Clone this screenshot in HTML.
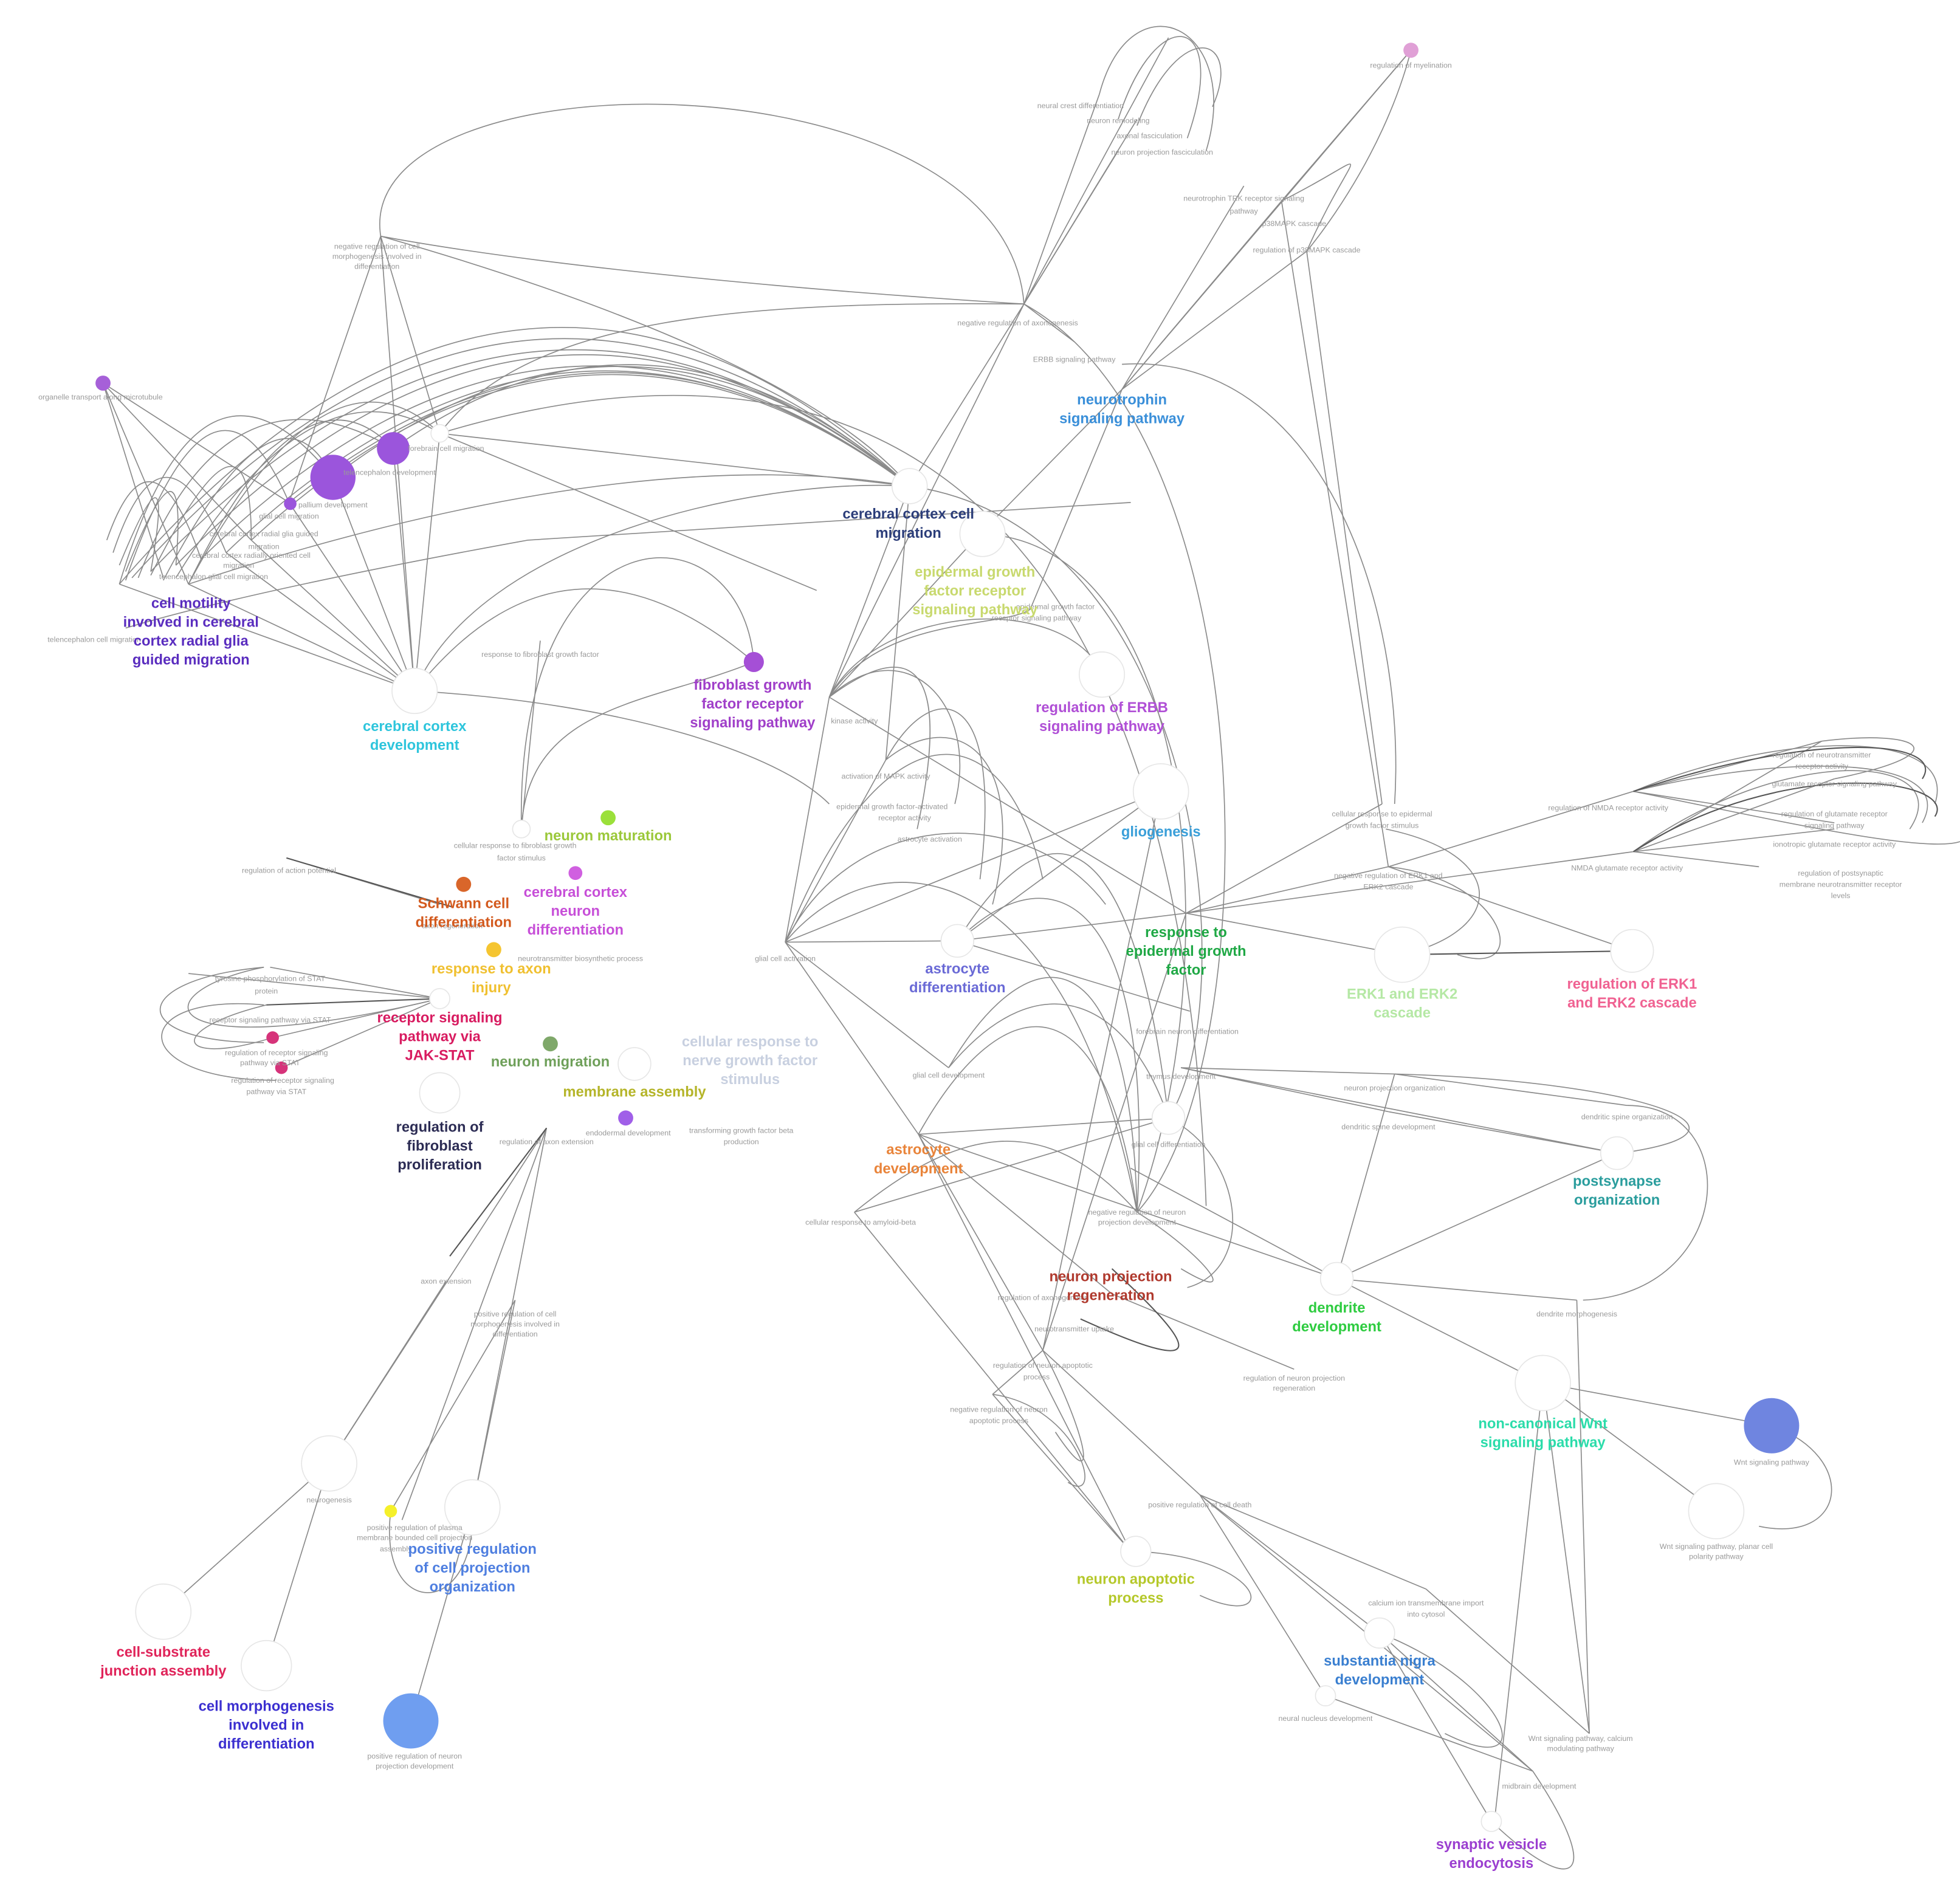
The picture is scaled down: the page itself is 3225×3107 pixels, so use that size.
<!DOCTYPE html>
<html><head><meta charset="utf-8"><style>
html,body{margin:0;padding:0;background:#fff}
svg{display:block}
.e{fill:none;stroke:#8a8a8a;stroke-width:0.8}
.d{fill:none;stroke:#555;stroke-width:1}
.n{fill:#fff;stroke:#e6e6e6;stroke-width:0.8}
.s{font-family:"Liberation Sans",sans-serif;font-size:6px;fill:#9a9a9a;text-anchor:middle}
.l{font-family:"Liberation Sans",sans-serif;font-size:11.5px;font-weight:bold;text-anchor:middle}
</style></head><body>
<svg width="3225" height="3107" viewBox="0 0 1560 1503" preserveAspectRatio="none" xmlns="http://www.w3.org/2000/svg">
<rect width="1560" height="1503" fill="#fff"/>
<g class="e">
<!-- big top loop -->
<path d="M303 188 C280 40 800 40 815 242"/>
<path d="M303 188 C420 210 620 230 815 242"/>
<path d="M303 188 C450 230 650 300 724 387"/>
<path d="M303 188 L230 400"/><path d="M303 188 L350 345"/><path d="M303 188 L330 550"/>
<path d="M815 242 L930 30"/><path d="M815 242 L875 75"/><path d="M815 242 L905 95"/><path d="M815 242 L890 120"/>
<path d="M815 242 L724 387"/><path d="M815 242 L660 555"/><path d="M815 242 L855 272"/>
<path d="M815 242 C600 240 420 250 350 345"/>
<path d="M893 310 L1020 160"/><path d="M893 310 L1123 40"/><path d="M893 310 L990 148"/><path d="M893 310 L1040 200"/>
<path d="M893 310 L780 425"/><path d="M893 310 L820 485"/>
<path d="M1123 40 L1020 160"/><path d="M1123 40 C1100 130 1040 200 1040 200"/>
<path d="M1040 200 L1100 640"/><path d="M1020 160 L1105 690"/>
<path d="M893 290 C1050 280 1120 480 1110 640"/>
<!-- top right loops -->
<path d="M875 75 C900 -20 990 20 960 120"/><path d="M890 95 C920 0 980 10 945 110"/><path d="M905 100 C940 10 990 30 965 85"/>
<path d="M1040 200 C1080 110 1100 120 1020 160"/>
<!-- fan arcs from left cluster -->
<path d="M95 465 Q410 100 724 387"/><path d="M105 460 Q410 120 724 387"/><path d="M120 455 Q420 140 724 387"/>
<path d="M140 450 Q430 150 724 387"/><path d="M160 445 Q440 170 724 387"/><path d="M180 440 Q450 180 724 387"/>
<path d="M200 430 Q460 190 724 387"/><path d="M230 400 Q480 200 724 387"/><path d="M265 380 Q500 200 724 387"/>
<path d="M313 357 Q520 210 724 387"/>
<path d="M95 465 Q160 250 265 380"/><path d="M100 462 Q170 260 230 400"/><path d="M110 460 Q180 280 313 357"/>
<path d="M120 458 Q200 300 200 430"/><path d="M90 440 Q130 320 180 440"/><path d="M85 430 Q120 330 160 445"/>
<path d="M100 455 Q150 330 140 450"/><path d="M95 450 Q140 340 120 455"/><path d="M130 462 Q220 290 265 380"/>
<path d="M150 465 Q240 280 313 357"/><path d="M150 465 Q260 260 350 345"/><path d="M140 460 Q250 280 350 345"/>
<path d="M82 305 L150 465"/><path d="M82 305 L200 430"/><path d="M82 305 L130 460"/><path d="M82 305 L230 400"/>
<!-- to cerebral cortex development -->
<path d="M95 465 L330 550"/><path d="M150 465 L330 550"/><path d="M200 430 L330 550"/><path d="M230 400 L330 550"/>
<path d="M265 380 L330 550"/><path d="M313 357 L330 550"/><path d="M350 345 L330 550"/><path d="M180 440 L330 550"/>
<path d="M330 550 C380 430 600 380 724 387"/><path d="M330 550 Q450 400 600 527"/><path d="M150 465 Q500 350 724 387"/>
<path d="M330 550 C500 560 620 600 660 640"/>
<path d="M350 345 L724 387"/><path d="M350 345 L650 470"/>
<path d="M100 500 Q200 470 420 430 L900 400"/>
<!-- fibroblast region -->
<path d="M430 510 L415 660"/><path d="M415 660 C410 400 590 400 600 527"/><path d="M415 660 C420 560 520 560 600 527"/>
<path d="M724 387 L660 555"/><path d="M724 387 L705 605"/><path d="M780 425 L660 555"/>
<path d="M660 555 C700 480 850 470 880 540"/><path d="M660 555 C700 490 800 500 820 485"/>
<path d="M660 555 C720 510 760 520 730 660"/><path d="M660 555 C720 500 780 560 760 640"/>
<path d="M705 605 C740 540 800 540 780 700"/><path d="M705 605 C760 560 820 600 790 720"/>
<path d="M625 750 C700 560 800 560 830 700"/><path d="M625 750 L660 555"/><path d="M625 750 L705 605"/>
<path d="M625 750 L762 749"/><path d="M625 750 L755 850"/><path d="M625 750 L731 903"/><path d="M625 750 L924 630"/>
<path d="M625 750 C680 640 820 640 880 720"/><path d="M625 750 C700 660 850 680 905 965"/>
<path d="M762 749 C830 640 900 640 930 890"/><path d="M762 749 C830 680 920 700 905 965"/>
<path d="M762 749 L944 727"/><path d="M762 749 L924 630"/><path d="M762 749 L947 805"/>
<path d="M755 850 C830 760 900 800 930 890"/><path d="M755 850 C820 740 900 740 905 965"/>
<path d="M731 903 C800 780 880 780 905 965"/><path d="M731 903 L930 890"/><path d="M731 903 L885 1030"/>
<path d="M731 903 L900 1235"/><path d="M731 903 L1064 1018"/><path d="M731 903 L830 1075"/>
<!-- long arcs -->
<path d="M815 242 C1010 350 1010 850 905 965"/><path d="M724 387 C960 420 990 800 930 890"/>
<path d="M780 425 C950 430 980 760 905 965"/><path d="M350 345 C700 240 940 400 960 960"/>
<path d="M680 965 L930 890"/><path d="M680 965 C760 900 830 880 905 965"/>
<path d="M905 965 C960 1000 990 1040 940 1010"/><path d="M930 890 C990 920 1000 1010 945 1025"/>
<!-- egf / erk -->
<path d="M944 727 L1300 678"/><path d="M944 727 L1105 690"/><path d="M944 727 L1116 760"/><path d="M944 727 L1100 640"/>
<path d="M944 727 L660 555"/><path d="M944 727 L830 1075"/><path d="M924 630 L830 1075"/>
<path d="M1105 690 L1299 757"/><path d="M1105 690 L1300 630"/><path d="M1105 690 C1200 700 1220 780 1160 760"/>
<path d="M1300 678 L1450 590"/><path d="M1300 678 L1460 660"/><path d="M1300 678 L1400 690"/>
<path d="M1300 630 C1420 580 1560 580 1540 640"/><path d="M1300 630 C1420 600 1560 600 1530 655"/>
<path d="M1300 678 C1420 590 1560 600 1520 660"/><path d="M1300 630 C1400 650 1530 680 1560 670"/>
<path d="M1300 630 L1450 590"/><path d="M1300 678 L1460 620"/><path d="M1300 630 L1460 655"/>
<path d="M1450 590 C1530 580 1560 600 1460 620"/>
<!-- postsynapse -->
<path d="M940 850 L1287 918"/><path d="M940 850 L1110 855"/><path d="M940 850 L1105 885"/>
<path d="M1110 855 L1295 880"/><path d="M1105 885 L1287 918"/><path d="M1110 855 C1300 860 1420 900 1290 918"/>
<path d="M1295 880 C1390 880 1380 1030 1260 1035"/><path d="M1064 1018 L1287 918"/><path d="M1064 1018 L1110 855"/>
<path d="M1064 1018 L1255 1035"/><path d="M1064 1018 L1228 1101"/><path d="M1064 1018 L900 930"/>
<path d="M1255 1035 L1265 1380"/><path d="M1228 1101 L1410 1135"/><path d="M1228 1101 L1366 1203"/>
<path d="M1228 1101 L1265 1380"/><path d="M1228 1101 L1190 1445"/>
<path d="M1410 1135 C1480 1160 1470 1230 1400 1215"/>
<path d="M1103 660 C1200 680 1200 740 1116 760"/>
<!-- lower middle -->
<path d="M830 1075 L955 1190"/><path d="M830 1075 C860 1130 880 1200 840 1140"/><path d="M830 1075 L790 1110"/>
<path d="M790 1110 L900 1235"/><path d="M790 1110 C860 1120 880 1200 850 1180"/>
<path d="M955 1190 L1135 1265"/><path d="M955 1190 L1098 1300"/><path d="M955 1190 L1055 1350"/><path d="M955 1190 L1220 1410"/>
<path d="M904 1235 C1010 1240 1020 1300 955 1270"/><path d="M680 965 L900 1235"/>
<path d="M1098 1300 L1220 1410"/><path d="M1098 1300 L1187 1450"/><path d="M1055 1350 L1220 1410"/>
<path d="M1135 1265 L1265 1380"/><path d="M1220 1410 C1280 1500 1250 1510 1187 1450"/>
<path d="M1098 1300 C1200 1340 1230 1420 1150 1380"/>
<path d="M885 1030 L1030 1090"/>
<!-- left lower -->
<path d="M435 898 L262 1165"/><path d="M435 898 L376 1200"/><path d="M435 898 L320 1210"/>
<path d="M355 1020 L262 1165"/><path d="M410 1035 L311 1203"/><path d="M410 1035 L376 1200"/>
<path d="M262 1165 L130 1283"/><path d="M262 1165 L212 1326"/><path d="M376 1200 L327 1370"/>
<path d="M311 1203 C300 1290 380 1290 376 1200"/>
<path d="M228 683 L350 720"/><path d="M150 775 L350 795"/>
<path d="M210 770 C100 780 100 830 210 830"/><path d="M210 800 C100 790 100 860 220 860"/>
<path d="M210 770 C110 790 120 850 350 795"/><path d="M217 826 C140 850 130 820 212 800"/>
<path d="M215 770 L350 795"/><path d="M217 826 L350 795"/><path d="M224 850 L350 795"/>
</g>
<g class="d">
<path d="M1116 760 L1299 757"/><path d="M228 683 L360 722"/><path d="M435 898 L358 1000"/>
<path d="M212 800 L350 795"/><path d="M885 1010 C950 1070 970 1100 860 1050"/>
<path d="M1300 678 C1420 600 1560 620 1540 650"/><path d="M1300 630 C1450 580 1550 590 1530 620"/>
</g>
<!-- nodes -->
<g class="n">
<circle cx="330" cy="550" r="18"/><circle cx="724" cy="387" r="14"/><circle cx="782" cy="425" r="18"/>
<circle cx="877" cy="537" r="18"/><circle cx="924" cy="630" r="22"/><circle cx="762" cy="749" r="13"/>
<circle cx="1116" cy="760" r="22"/><circle cx="1299" cy="757" r="17"/><circle cx="1287" cy="918" r="13"/>
<circle cx="930" cy="890" r="13"/><circle cx="1064" cy="1018" r="13"/><circle cx="1228" cy="1101" r="22"/>
<circle cx="1366" cy="1203" r="22"/><circle cx="904" cy="1235" r="12"/><circle cx="1098" cy="1300" r="12"/>
<circle cx="376" cy="1200" r="22"/><circle cx="130" cy="1283" r="22"/><circle cx="212" cy="1326" r="20"/>
<circle cx="262" cy="1165" r="22"/><circle cx="350" cy="870" r="16"/><circle cx="505" cy="847" r="13"/>
<circle cx="350" cy="795" r="8"/><circle cx="415" cy="660" r="7"/><circle cx="350" cy="345" r="7"/>
<circle cx="1055" cy="1350" r="8"/><circle cx="1187" cy="1450" r="8"/>
</g>
<circle cx="265" cy="380" r="18" fill="#9b55dc"/><circle cx="313" cy="357" r="13" fill="#9b55dc"/>
<circle cx="231" cy="401" r="5" fill="#9b55dc"/><circle cx="82" cy="305" r="6" fill="#a660d8"/>
<circle cx="600" cy="527" r="8" fill="#a54fd6"/><circle cx="484" cy="651" r="6" fill="#9be03a"/>
<circle cx="458" cy="695" r="5.5" fill="#d060e0"/><circle cx="369" cy="704" r="6" fill="#d9662a"/>
<circle cx="393" cy="756" r="6" fill="#f5c531"/><circle cx="217" cy="826" r="5" fill="#d6337a"/>
<circle cx="224" cy="850" r="5" fill="#d6337a"/><circle cx="438" cy="831" r="6" fill="#7fa86a"/>
<circle cx="498" cy="890" r="6" fill="#a05fe8"/><circle cx="1410" cy="1135" r="22" fill="#6f85e0"/>
<circle cx="327" cy="1370" r="22" fill="#6f9ef0"/><circle cx="311" cy="1203" r="5" fill="#f5f02a"/>
<circle cx="1123" cy="40" r="6" fill="#e0a0d6"/>
<!-- small labels -->
<g class="s">
<text x="80" y="318">organelle transport along microtubule</text>
<text x="300" y="198">negative regulation of cell</text><text x="300" y="206">morphogenesis involved in</text><text x="300" y="214">differentiation</text>
<text x="355" y="359">forebrain cell migration</text><text x="310" y="378">telencephalon development</text>
<text x="265" y="404">pallium development</text><text x="230" y="413">glial cell migration</text>
<text x="210" y="427">cerebral cortex radial glia guided</text><text x="210" y="437">migration</text>
<text x="200" y="444">cerebral cortex radially oriented cell</text><text x="190" y="452">migration</text>
<text x="170" y="461">telencephalon glial cell migration</text><text x="75" y="511">telencephalon cell migration</text>
<text x="430" y="523">response to fibroblast growth factor</text>
<text x="410" y="675">cellular response to fibroblast growth</text><text x="415" y="685">factor stimulus</text>
<text x="230" y="695">regulation of action potential</text><text x="360" y="739">axon regeneration</text>
<text x="462" y="765">neurotransmitter biosynthetic process</text>
<text x="215" y="781">tyrosine phosphorylation of STAT</text><text x="212" y="791">protein</text>
<text x="215" y="814">receptor signaling pathway via STAT</text>
<text x="220" y="840">regulation of receptor signaling</text><text x="215" y="848">pathway via STAT</text>
<text x="225" y="862">regulation of receptor signaling</text><text x="220" y="871">pathway via STAT</text>
<text x="435" y="911">regulation of axon extension</text><text x="500" y="904">endodermal development</text>
<text x="590" y="902">transforming growth factor beta</text><text x="590" y="911">production</text>
<text x="355" y="1022">axon extension</text>
<text x="410" y="1048">positive regulation of cell</text><text x="410" y="1056">morphogenesis involved in</text><text x="410" y="1064">differentiation</text>
<text x="262" y="1196">neurogenesis</text>
<text x="330" y="1218">positive regulation of plasma</text><text x="330" y="1226">membrane bounded cell projection</text><text x="315" y="1235">assembly</text>
<text x="330" y="1400">positive regulation of neuron</text><text x="330" y="1408">projection development</text>
<text x="810" y="259">negative regulation of axonogenesis</text><text x="855" y="288">ERBB signaling pathway</text>
<text x="860" y="86">neural crest differentiation</text><text x="890" y="98">neuron remodeling</text>
<text x="915" y="110">axonal fasciculation</text><text x="925" y="123">neuron projection fasciculation</text>
<text x="1123" y="54">regulation of myelination</text>
<text x="990" y="160">neurotrophin TRK receptor signaling</text><text x="990" y="170">pathway</text>
<text x="1030" y="180">p38MAPK cascade</text><text x="1040" y="201">regulation of p38MAPK cascade</text>
<text x="840" y="485">epidermal growth factor</text><text x="825" y="494">receptor signaling pathway</text>
<text x="680" y="576">kinase activity</text><text x="705" y="620">activation of MAPK activity</text>
<text x="710" y="644">epidermal growth factor-activated</text><text x="720" y="653">receptor activity</text>
<text x="740" y="670">astrocyte activation</text><text x="625" y="765">glial cell activation</text>
<text x="755" y="858">glial cell development</text><text x="930" y="913">glial cell differentiation</text>
<text x="685" y="975">cellular response to amyloid-beta</text>
<text x="905" y="967">negative regulation of neuron</text><text x="905" y="975">projection development</text>
<text x="830" y="1035">regulation of axonogenesis</text><text x="855" y="1060">neurotransmitter uptake</text>
<text x="830" y="1089">regulation of neuron apoptotic</text><text x="825" y="1098">process</text>
<text x="795" y="1124">negative regulation of neuron</text><text x="795" y="1133">apoptotic process</text>
<text x="955" y="1200">positive regulation of cell death</text>
<text x="1030" y="1099">regulation of neuron projection</text><text x="1030" y="1107">regeneration</text>
<text x="1100" y="650">cellular response to epidermal</text><text x="1100" y="659">growth factor stimulus</text>
<text x="1105" y="699">negative regulation of ERK1 and</text><text x="1105" y="708">ERK2 cascade</text>
<text x="1280" y="645">regulation of NMDA receptor activity</text><text x="1295" y="693">NMDA glutamate receptor activity</text>
<text x="1450" y="603">regulation of neurotransmitter</text><text x="1450" y="612">receptor activity</text>
<text x="1460" y="626">glutamate receptor signaling pathway</text><text x="1460" y="650">regulation of glutamate receptor</text><text x="1460" y="659">signaling pathway</text>
<text x="1460" y="674">ionotropic glutamate receptor activity</text>
<text x="1465" y="697">regulation of postsynaptic</text><text x="1465" y="706">membrane neurotransmitter receptor</text><text x="1465" y="715">levels</text>
<text x="945" y="823">forebrain neuron differentiation</text><text x="940" y="859">thymus development</text>
<text x="1110" y="868">neuron projection organization</text><text x="1105" y="899">dendritic spine development</text>
<text x="1295" y="891">dendritic spine organization</text><text x="1255" y="1048">dendrite morphogenesis</text>
<text x="1410" y="1166">Wnt signaling pathway</text><text x="1366" y="1233">Wnt signaling pathway, planar cell</text><text x="1366" y="1241">polarity pathway</text>
<text x="1135" y="1278">calcium ion transmembrane import</text><text x="1135" y="1287">into cytosol</text>
<text x="1055" y="1370">neural nucleus development</text>
<text x="1258" y="1386">Wnt signaling pathway, calcium</text><text x="1258" y="1394">modulating pathway</text>
<text x="1225" y="1424">midbrain development</text>
</g>
<!-- main labels -->
<g class="l">
<text fill="#5a2dbf"><tspan x="152" y="484">cell motility</tspan><tspan x="152" y="499">involved in cerebral</tspan><tspan x="152" y="514">cortex radial glia</tspan><tspan x="152" y="529">guided migration</tspan></text>
<text fill="#2ec5dc"><tspan x="330" y="582">cerebral cortex</tspan><tspan x="330" y="597">development</tspan></text>
<text fill="#2c3e7a"><tspan x="723" y="413">cerebral cortex cell</tspan><tspan x="723" y="428">migration</tspan></text>
<text fill="#c8d96e"><tspan x="776" y="459">epidermal growth</tspan><tspan x="776" y="474">factor receptor</tspan><tspan x="776" y="489">signaling pathway</tspan></text>
<text fill="#3a8fd9"><tspan x="893" y="322">neurotrophin</tspan><tspan x="893" y="337">signaling pathway</tspan></text>
<text fill="#a03fc9"><tspan x="599" y="549">fibroblast growth</tspan><tspan x="599" y="564">factor receptor</tspan><tspan x="599" y="579">signaling pathway</tspan></text>
<text fill="#b04fd6"><tspan x="877" y="567">regulation of ERBB</tspan><tspan x="877" y="582">signaling pathway</tspan></text>
<text fill="#3a9fd9" x="924" y="666">gliogenesis</text>
<text fill="#9bc83a" x="484" y="669">neuron maturation</text>
<text fill="#c74fd8"><tspan x="458" y="714">cerebral cortex</tspan><tspan x="458" y="729">neuron</tspan><tspan x="458" y="744">differentiation</tspan></text>
<text fill="#d35a1e"><tspan x="369" y="723">Schwann cell</tspan><tspan x="369" y="738">differentiation</tspan></text>
<text fill="#f0c030"><tspan x="391" y="775">response to axon</tspan><tspan x="391" y="790">injury</tspan></text>
<text fill="#d81b60"><tspan x="350" y="814">receptor signaling</tspan><tspan x="350" y="829">pathway via</tspan><tspan x="350" y="844">JAK-STAT</tspan></text>
<text fill="#6fa05a" x="438" y="849">neuron migration</text>
<text fill="#c8d0e0"><tspan x="597" y="833">cellular response to</tspan><tspan x="597" y="848">nerve growth factor</tspan><tspan x="597" y="863">stimulus</tspan></text>
<text fill="#b5b52a" x="505" y="873">membrane assembly</text>
<text fill="#2c2c54"><tspan x="350" y="901">regulation of</tspan><tspan x="350" y="916">fibroblast</tspan><tspan x="350" y="931">proliferation</tspan></text>
<text fill="#6a6ad6"><tspan x="762" y="775">astrocyte</tspan><tspan x="762" y="790">differentiation</tspan></text>
<text fill="#1fa845"><tspan x="944" y="746">response to</tspan><tspan x="944" y="761">epidermal growth</tspan><tspan x="944" y="776">factor</tspan></text>
<text fill="#b5e8a5"><tspan x="1116" y="795">ERK1 and ERK2</tspan><tspan x="1116" y="810">cascade</tspan></text>
<text fill="#f06292"><tspan x="1299" y="787">regulation of ERK1</tspan><tspan x="1299" y="802">and ERK2 cascade</tspan></text>
<text fill="#2a9d9d"><tspan x="1287" y="944">postsynapse</tspan><tspan x="1287" y="959">organization</tspan></text>
<text fill="#e9843a"><tspan x="731" y="919">astrocyte</tspan><tspan x="731" y="934">development</tspan></text>
<text fill="#b03a2e"><tspan x="884" y="1020">neuron projection</tspan><tspan x="884" y="1035">regeneration</tspan></text>
<text fill="#2ecc40"><tspan x="1064" y="1045">dendrite</tspan><tspan x="1064" y="1060">development</tspan></text>
<text fill="#2bdcaa"><tspan x="1228" y="1137">non-canonical Wnt</tspan><tspan x="1228" y="1152">signaling pathway</tspan></text>
<text fill="#b5c82a"><tspan x="904" y="1261">neuron apoptotic</tspan><tspan x="904" y="1276">process</tspan></text>
<text fill="#3a7fd0"><tspan x="1098" y="1326">substantia nigra</tspan><tspan x="1098" y="1341">development</tspan></text>
<text fill="#9b3fd0"><tspan x="1187" y="1472">synaptic vesicle</tspan><tspan x="1187" y="1487">endocytosis</tspan></text>
<text fill="#4f7fe0"><tspan x="376" y="1237">positive regulation</tspan><tspan x="376" y="1252">of cell projection</tspan><tspan x="376" y="1267">organization</tspan></text>
<text fill="#e0245a"><tspan x="130" y="1319">cell-substrate</tspan><tspan x="130" y="1334">junction assembly</tspan></text>
<text fill="#3b2fd0"><tspan x="212" y="1362">cell morphogenesis</tspan><tspan x="212" y="1377">involved in</tspan><tspan x="212" y="1392">differentiation</tspan></text>
</g>
</svg>
</body></html>
